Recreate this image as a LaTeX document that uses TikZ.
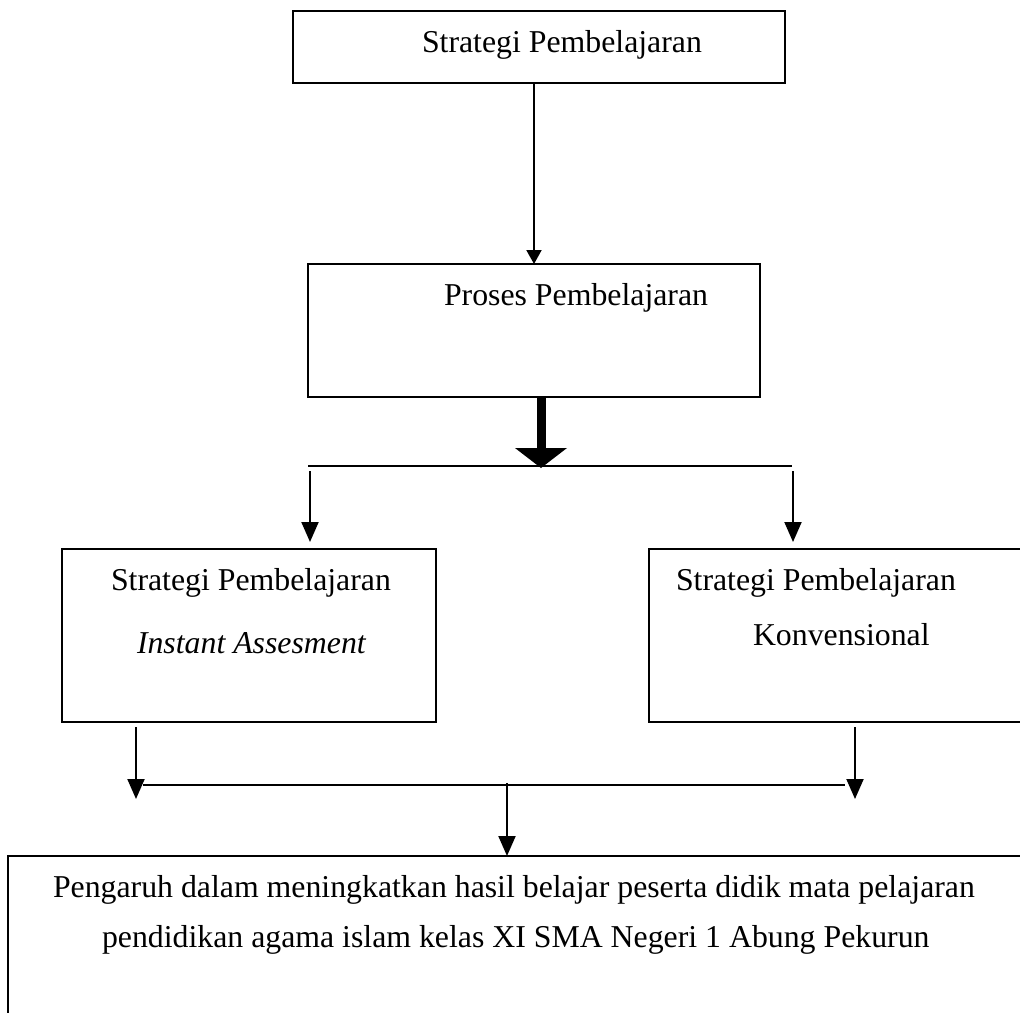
\documentclass[tikz,border=0pt]{standalone}
\usepackage{fontspec}
\setmainfont{Liberation Serif}
\usetikzlibrary{arrows.meta,calc}
\begin{document}
\begin{tikzpicture}[x=1pt,y=-1pt,
  box/.style={draw,line width=1.5pt,inner sep=0pt,outer sep=0pt},
  lbl/.style={anchor=base west,inner sep=0pt,outer sep=0pt,font=\fontsize{31.8}{38}\selectfont},
  arr/.style={line width=2pt,-{Triangle[length=20pt,width=17pt]}},
  ln/.style={line width=1.5pt}]
\clip (0,0) rectangle (1020,1012);
% boxes
\node[box,line width=2pt,minimum width=492pt,minimum height=72pt] (top) at (539,47) {};
\node[lbl] (topt) at (422,52) {Strategi Pembelajaran};
\node[box,minimum width=452pt,minimum height=133pt] (proc) at (534,330.5) {};
\node[lbl] (proct) at (444,305) {Proses Pembelajaran};
\node[box,minimum width=374pt,minimum height=173pt] (lbox) at (249,635.5) {};
\node[lbl] (lt1) at (111,590) {Strategi Pembelajaran};
\node[lbl,font=\fontsize{31.8}{38}\selectfont\itshape] (lt2) at (137,653) {Instant Assesment};
\node[box,minimum width=391pt,minimum height=173pt] (rbox) at (844.5,635.5) {};
\node[lbl] (rt1) at (676,590) {Strategi Pembelajaran};
\node[lbl] (rt2) at (753,645) {Konvensional};
\node[box,minimum width=1032pt,minimum height=184pt] (bbox) at (524,948) {};
\node[lbl] (bt1) at (53,897) {Pengaruh dalam meningkatkan hasil belajar peserta didik mata pelajaran};
\node[lbl] (bt2) at (102,947) {pendidikan agama islam kelas XI SMA Negeri 1 Abung Pekurun};
% split lines and columns
\coordinate (s1l) at (308,466); \coordinate (s1r) at (792,466);
\coordinate (s2l) at (143,785); \coordinate (s2r) at (845,785);
\coordinate (c1) at (534,0);
\coordinate (c2) at (541,0);
\coordinate (c3) at (310,0);
\coordinate (c4) at (793,0);
\coordinate (c5) at (136,0);
\coordinate (c6) at (855,0);
\coordinate (c7) at (507,0);
% connectors
\draw[line width=2pt,-{Triangle[length=14pt,width=15pt]}] (c1 |- top.south) -- (c1 |- proc.north);
\draw[line width=9pt,-{Triangle[length=20pt,width=52pt,line width=0pt]}] (c2 |- proc.south) -- ($(c2 |- s1l)+(0,2)$);
\draw[ln] (s1l) -- (s1r);
\draw[arr] ($(c3 |- s1l)+(0,5)$) -- ($(c3 |- lbox.north)+(0,-7)$);
\draw[arr] ($(c4 |- s1r)+(0,5)$) -- ($(c4 |- rbox.north)+(0,-7)$);
\draw[arr] ($(c5 |- lbox.south)+(0,5)$) -- ($(c5 |- s2l)+(0,14)$);
\draw[arr] ($(c6 |- rbox.south)+(0,5)$) -- ($(c6 |- s2r)+(0,14)$);
\draw[ln] (s2l) -- (s2r);
\draw[arr] ($(c7 |- s2l)+(0,-2)$) -- (c7 |- bbox.north);
\end{tikzpicture}
\end{document}
